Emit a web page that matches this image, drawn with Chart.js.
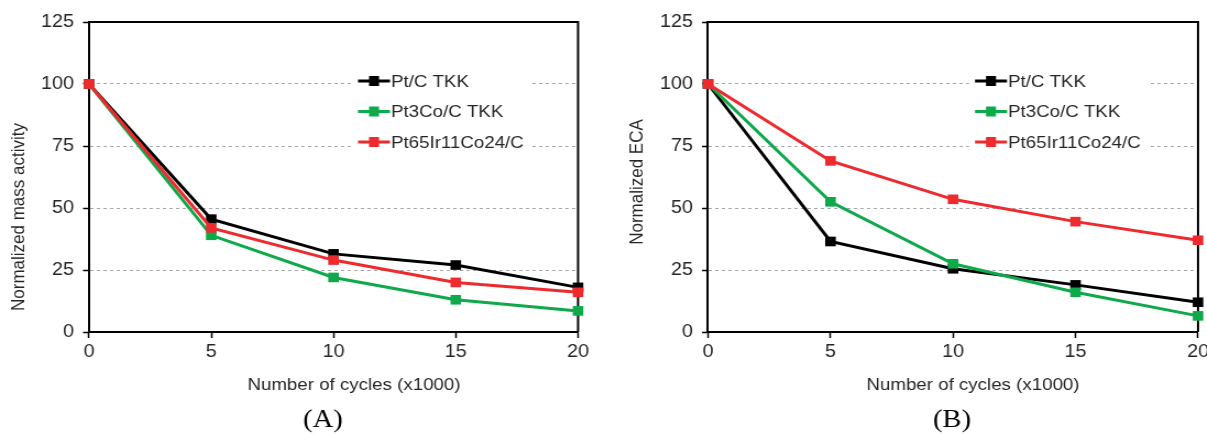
<!DOCTYPE html>
<html>
<head>
<meta charset="utf-8">
<script src="https://cdn.jsdelivr.net/npm/chart.js@4.4.1/dist/chart.umd.min.js"></script>
<style>
  html, body { margin: 0; padding: 0; background: #fff; }
  .panel { position: absolute; top: 0; height: 435px; transform-origin: 0 0; }
</style>
</head>
<body>
<div class="panel" id="wrapA"><canvas id="chartA"></canvas></div>
<div class="panel" id="wrapB"><canvas id="chartB"></canvas></div>
<script>
// Data
const cycles = [0, 5, 10, 15, 20];
const seriesNames = ['Pt/C TKK', 'Pt3Co/C TKK', 'Pt65Ir11Co24/C'];
const yTicks = [0, 25, 50, 75, 100, 125];

// (A) normalized mass activity
const massPtC = [100, 45.5, 31.5, 27, 18];
const massPt3Co = [100, 39, 22, 13, 8.5];
const massPtIrCo = [100, 42, 29, 20, 16];

// (B) normalized ECA
const ecaPtC = [100, 36.5, 25.5, 19, 12];
const ecaPt3Co = [100, 52.5, 27.5, 16, 6.5];
const ecaPtIrCo = [100, 69, 53.5, 44.5, 37];

const colors = ['#000000', '#0ea94b', '#ee2a2e'];
const FONT = "'Liberation Sans', Arial, sans-serif";
const TEXT = '#262626';
const SX = 1.1; // the original figure is a bit stretched sideways

Chart.defaults.font.family = FONT;
Chart.defaults.font.size = 18;
Chart.defaults.color = TEXT;

// place the two panels (page px), drawn narrower then stretched
function placePanel(id, left, width) {
    const el = document.getElementById(id);
    el.style.left = left + 'px';
    el.style.width = (width / SX) + 'px';
    el.style.transform = 'scaleX(' + SX + ')';
}
placePanel('wrapA', 0, 603);
placePanel('wrapB', 603, 604);

function toPoints(vals) {
    return vals.map((v, i) => ({ x: cycles[i], y: v }));
}

function makeDatasets(seriesList) {
    return seriesList.map((vals, i) => ({
        label: seriesNames[i],
        data: toPoints(vals),
        borderColor: colors[i],
        backgroundColor: colors[i],
        borderWidth: 3,
        pointStyle: 'rect',
        pointRadius: 6.8,
        pointHoverRadius: 6.8,
        pointBorderWidth: 0,
        tension: 0,
        clip: false,
        order: 3 - i // red drawn on top
    }));
}

// frame, legend, axis titles and panel letter (x positions given in page px)
const decor = {
    id: 'decor',
    beforeDatasetsDraw(chart, args, o) {
        const { ctx, chartArea: a } = chart;
        ctx.save();
        ctx.strokeStyle = '#000';
        ctx.lineWidth = 2;
        ctx.beginPath();
        ctx.moveTo(a.left, a.top);
        ctx.lineTo(a.right, a.top);
        ctx.lineTo(a.right, a.bottom);
        ctx.stroke();
        ctx.restore();
    },
    afterDraw(chart, args, o) {
        const { ctx } = chart;
        const lx = o.legendX / SX;
        ctx.save();

        // legend box
        ctx.fillStyle = '#fff';
        ctx.fillRect(lx - 6 / SX, 66, 180 / SX, 91);
        chart.data.datasets.forEach((ds, i) => {
            const y = 81 + i * 30.5;
            ctx.strokeStyle = ds.borderColor;
            ctx.lineWidth = 3;
            ctx.beginPath();
            ctx.moveTo(lx, y);
            ctx.lineTo(lx + 32 / SX, y);
            ctx.stroke();
            ctx.fillStyle = ds.backgroundColor;
            ctx.fillRect(lx + 11 / SX, y - 5, 10 / SX, 10);
            ctx.fillStyle = TEXT;
            ctx.font = '17px ' + FONT;
            ctx.textAlign = 'left';
            ctx.textBaseline = 'middle';
            ctx.fillText(ds.label, lx + 33 / SX, y + 1);
        });

        // axis titles
        ctx.fillStyle = TEXT;
        ctx.font = '17px ' + FONT;
        ctx.textAlign = 'center';
        ctx.textBaseline = 'middle';
        ctx.fillText('Number of cycles (x1000)', o.xTitleX / SX, 385);
        ctx.save();
        ctx.translate(o.yTitleX / SX, o.yTitleY);
        ctx.rotate(-Math.PI / 2);
        ctx.fillText(o.yTitle, 0, 0);
        ctx.restore();

        // panel letter
        ctx.fillStyle = '#000';
        ctx.font = "26px 'Liberation Serif', 'Times New Roman', serif";
        ctx.fillText(o.panel, o.panelX / SX, 420);
        ctx.restore();
    }
};

function createChart(id, seriesList, axisWidth, padRight, decorOpts) {
    return new Chart(document.getElementById(id).getContext('2d'), {
        type: 'line',
        data: { datasets: makeDatasets(seriesList) },
        options: {
            responsive: true,
            maintainAspectRatio: false,
            animation: false,
            layout: { padding: { top: 22, right: padRight / SX, left: 0, bottom: 0 } },
            plugins: {
                legend: { display: false },
                tooltip: { enabled: false },
                decor: decorOpts
            },
            scales: {
                x: {
                    type: 'linear',
                    min: 0,
                    max: 20,
                    afterBuildTicks: (s) => { s.ticks = cycles.map(v => ({ value: v })); },
                    grid: { drawOnChartArea: false, drawTicks: true, tickLength: 6, tickColor: '#000', tickWidth: 1.5 },
                    border: { color: '#000', width: 2 },
                    ticks: { padding: 3, color: TEXT, maxRotation: 0 },
                    afterFit: (s) => { s.height = 103; s.paddingLeft = 0; s.paddingRight = 0; }
                },
                y: {
                    min: 0,
                    max: 125,
                    afterBuildTicks: (s) => { s.ticks = yTicks.map(v => ({ value: v })); },
                    grid: { color: '#a6a6a6', lineWidth: 1, drawTicks: true, tickLength: 6 / SX, tickColor: '#000', tickWidth: 1.5 },
                    border: { color: '#000', width: 2, dash: [3, 3] },
                    ticks: { padding: 9 / SX, color: TEXT },
                    afterFit: (s) => { s.width = axisWidth / SX; }
                }
            }
        },
        plugins: [decor]
    });
}

const chartA = createChart('chartA', [massPtC, massPt3Co, massPtIrCo], 89, 25, {
    legendX: 358, xTitleX: 354, yTitle: 'Normalized mass activity', yTitleX: 19, yTitleY: 217,
    panel: '(A)', panelX: 323
});
const chartB = createChart('chartB', [ecaPtC, ecaPt3Co, ecaPtIrCo], 105, 9, {
    legendX: 372, xTitleX: 370, yTitle: 'Normalized ECA', yTitleX: 34, yTitleY: 182,
    panel: '(B)', panelX: 349
});
</script>
</body>
</html>
